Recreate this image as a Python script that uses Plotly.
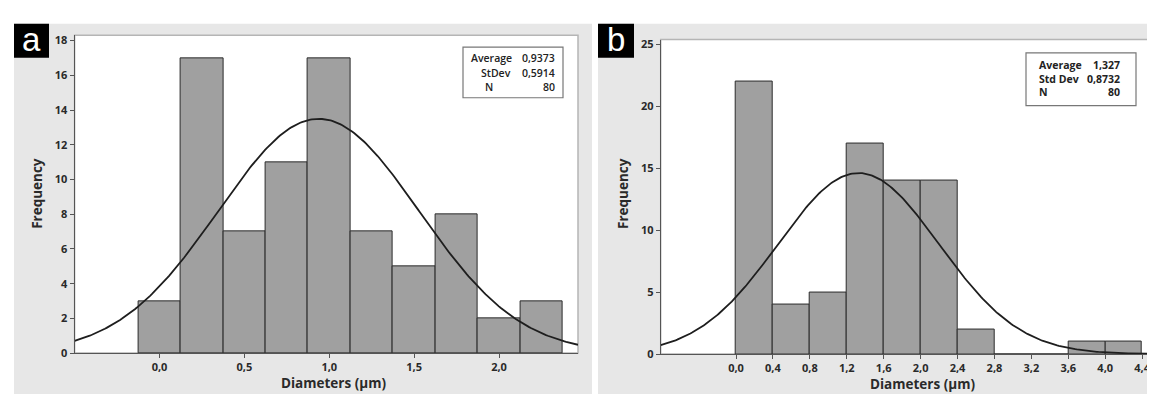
import numpy as np
import plotly.graph_objects as go

W, H = 1155, 394

# ---------------- data: panel a ----------------
a_bin_centers = [0.0, 0.25, 0.5, 0.75, 1.0, 1.25, 1.5, 1.75, 2.0, 2.25]
a_counts = [3, 17, 7, 11, 17, 7, 5, 8, 2, 3]
a_bin_width = 0.25
a_mean, a_std, a_n = 0.9373, 0.5914, 80
a_xticks = [0.0, 0.5, 1.0, 1.5, 2.0]
a_xticklabels = ["0,0", "0,5", "1,0", "1,5", "2,0"]
a_yticks = [0, 2, 4, 6, 8, 10, 12, 14, 16, 18]
a_stats_labels = ["Average", "StDev", "N"]
a_stats_values = ["0,9373", "0,5914", "80"]

# ---------------- data: panel b ----------------
b_bin_centers = [0.2, 0.6, 1.0, 1.4, 1.8, 2.2, 2.6, 3.0, 3.4, 3.8, 4.2]
b_counts = [22, 4, 5, 17, 14, 14, 2, 0, 0, 1, 1]
b_bin_width = 0.4
b_mean, b_std, b_n = 1.327, 0.8732, 80
b_xticks = [0.0, 0.4, 0.8, 1.2, 1.6, 2.0, 2.4, 2.8, 3.2, 3.6, 4.0, 4.4]
b_xticklabels = ["0,0", "0,4", "0,8", "1,2", "1,6", "2,0", "2,4", "2,8", "3,2", "3,6", "4,0", "4,4"]
b_yticks = [0, 5, 10, 15, 20, 25]
b_stats_labels = ["Average", "Std Dev", "N"]
b_stats_values = ["1,327", "0,8732", "80"]

x_title = "Diameters (µm)"
y_title = "Frequency"

a_xrange = [-0.5, 2.465]
b_xrange = [-0.816, 4.535]
a_yrange = [0, 18.3]
b_yrange = [0, 25.4]


def px(x):
    return x / W


def py(y):
    return 1 - y / H


def normal_fit(xr, mean, sd, n, bw):
    xs = np.linspace(xr[0], xr[1], 300)
    ys = n * bw / (sd * np.sqrt(2 * np.pi)) * np.exp(-0.5 * ((xs - mean) / sd) ** 2)
    return xs, ys


FONT = "Open Sans"
BAR_COLOR = "#a0a0a0"
EDGE = "#2b2b2b"
TXT = "#2a2a2a"

fig = go.Figure()

fig.add_trace(go.Bar(x=a_bin_centers, y=a_counts, width=a_bin_width,
                     marker=dict(color=BAR_COLOR, line=dict(color=EDGE, width=1)),
                     xaxis="x", yaxis="y", showlegend=False))
xa, ya = normal_fit(a_xrange, a_mean, a_std, a_n, a_bin_width)
fig.add_trace(go.Scatter(x=xa, y=ya, mode="lines", line=dict(color="#1e1e1e", width=1.8),
                         xaxis="x", yaxis="y", showlegend=False, cliponaxis=True))

fig.add_trace(go.Bar(x=b_bin_centers, y=b_counts, width=b_bin_width,
                     marker=dict(color=BAR_COLOR, line=dict(color=EDGE, width=1)),
                     xaxis="x2", yaxis="y2", showlegend=False))
xb, yb = normal_fit(b_xrange, b_mean, b_std, b_n, b_bin_width)
fig.add_trace(go.Scatter(x=xb, y=yb, mode="lines", line=dict(color="#1e1e1e", width=1.8),
                         xaxis="x2", yaxis="y2", showlegend=False, cliponaxis=True))

tickfont = dict(family=FONT, size=11, color=TXT, weight=700)
axis_common = dict(showgrid=False, zeroline=False, showline=True, linecolor="#555555",
                   linewidth=1, ticks="outside", ticklen=4, tickcolor="#555555",
                   tickfont=tickfont, fixedrange=True, ticklabeloverflow="allow")

fig.update_layout(
    width=W, height=H,
    margin=dict(l=0, r=0, t=0, b=0),
    paper_bgcolor="white",
    plot_bgcolor="rgba(0,0,0,0)",
    bargap=0,
    xaxis=dict(domain=[px(66.6), px(570)], range=a_xrange, anchor="y",
               tickvals=a_xticks, ticktext=a_xticklabels, **axis_common),
    yaxis=dict(domain=[py(351), py(25)], range=a_yrange, anchor="x",
               tickvals=a_yticks, **axis_common),
    xaxis2=dict(domain=[px(652.7), px(1146.6)], range=b_xrange, anchor="y2",
                tickvals=b_xticks, ticktext=b_xticklabels, **axis_common),
    yaxis2=dict(domain=[py(352), py(29.3)], range=b_yrange, anchor="x2",
                tickvals=b_yticks, **axis_common),
)

shapes = []
shapes.append(dict(type="rect", xref="paper", yref="paper", x0=px(6), x1=px(584), y0=0, y1=py(13),
                   fillcolor="#e7e7e7", line=dict(width=0), layer="below"))
shapes.append(dict(type="rect", xref="paper", yref="paper", x0=px(590), x1=1, y0=0, y1=py(13),
                   fillcolor="#e7e7e7", line=dict(width=0), layer="below"))
for xr, yr in (("x", "y"), ("x2", "y2")):
    shapes.append(dict(type="rect", xref=f"{xr} domain", yref=f"{yr} domain", x0=0, x1=1, y0=0, y1=1,
                       fillcolor="white", line=dict(color="#b5b5b5", width=1.5), layer="below"))
shapes.append(dict(type="rect", xref="paper", yref="paper", x0=px(6), x1=px(41), y0=py(48), y1=py(13),
                   fillcolor="black", line=dict(width=0), layer="above"))
shapes.append(dict(type="rect", xref="paper", yref="paper", x0=px(590), x1=px(626), y0=py(48), y1=py(13),
                   fillcolor="black", line=dict(width=0), layer="above"))
shapes.append(dict(type="rect", xref="paper", yref="paper", x0=px(455), x1=px(555), y0=py(89), y1=py(37),
                   fillcolor="white", line=dict(color="#777777", width=1.2), layer="above"))
shapes.append(dict(type="rect", xref="paper", yref="paper", x0=px(1018), x1=px(1128), y0=py(97), y1=py(43),
                   fillcolor="white", line=dict(color="#777777", width=1.2), layer="above"))
fig.update_layout(shapes=shapes)

ann = []
ann.append(dict(text="a", x=px(23.5), y=py(29), xref="paper", yref="paper", showarrow=False,
                font=dict(family="Liberation Sans", size=33, color="white"), xanchor="center", yanchor="middle"))
ann.append(dict(text="b", x=px(608), y=py(29), xref="paper", yref="paper", showarrow=False,
                font=dict(family="Liberation Sans", size=33, color="white"), xanchor="center", yanchor="middle"))
title_font = dict(family=FONT, size=13.5, color=TXT, weight=700)
ann.append(dict(text=x_title, x=px(325.7), y=py(382), xref="paper", yref="paper", showarrow=False,
                font=title_font, xanchor="center", yanchor="middle"))
ann.append(dict(text=x_title, x=px(914), y=py(383), xref="paper", yref="paper", showarrow=False,
                font=title_font, xanchor="center", yanchor="middle"))
ann.append(dict(text=y_title, x=px(29.6), y=py(187), xref="paper", yref="paper", showarrow=False,
                font=title_font, xanchor="center", yanchor="middle", textangle=-90))
ann.append(dict(text=y_title, x=px(615.7), y=py(187), xref="paper", yref="paper", showarrow=False,
                font=title_font, xanchor="center", yanchor="middle", textangle=-90))
stat_font_a = dict(family=FONT, size=10.5, color="#222222", weight=600)
stat_font_b = dict(family=FONT, size=10.5, color="#222222", weight=700)
a_label_x = [460.6, 470.6, 474.7]
a_rows = [48.3, 63.3, 78.3]
for lab, val, lx, ry in zip(a_stats_labels, a_stats_values, a_label_x, a_rows):
    ann.append(dict(text=lab, x=px(lx), y=py(ry), xref="paper", yref="paper", showarrow=False,
                    font=stat_font_a, xanchor="left", yanchor="middle"))
    ann.append(dict(text=val, x=px(549), y=py(ry), xref="paper", yref="paper", showarrow=False,
                    font=stat_font_a, xanchor="right", yanchor="middle"))
b_rows = [55.5, 69.5, 83.5]
for lab, val, ry in zip(b_stats_labels, b_stats_values, b_rows):
    ann.append(dict(text=lab, x=px(1028.5), y=py(ry), xref="paper", yref="paper", showarrow=False,
                    font=stat_font_b, xanchor="left", yanchor="middle"))
    ann.append(dict(text=val, x=px(1114), y=py(ry), xref="paper", yref="paper", showarrow=False,
                    font=stat_font_b, xanchor="right", yanchor="middle"))
fig.update_layout(annotations=ann)

fig.write_html("out.html")
